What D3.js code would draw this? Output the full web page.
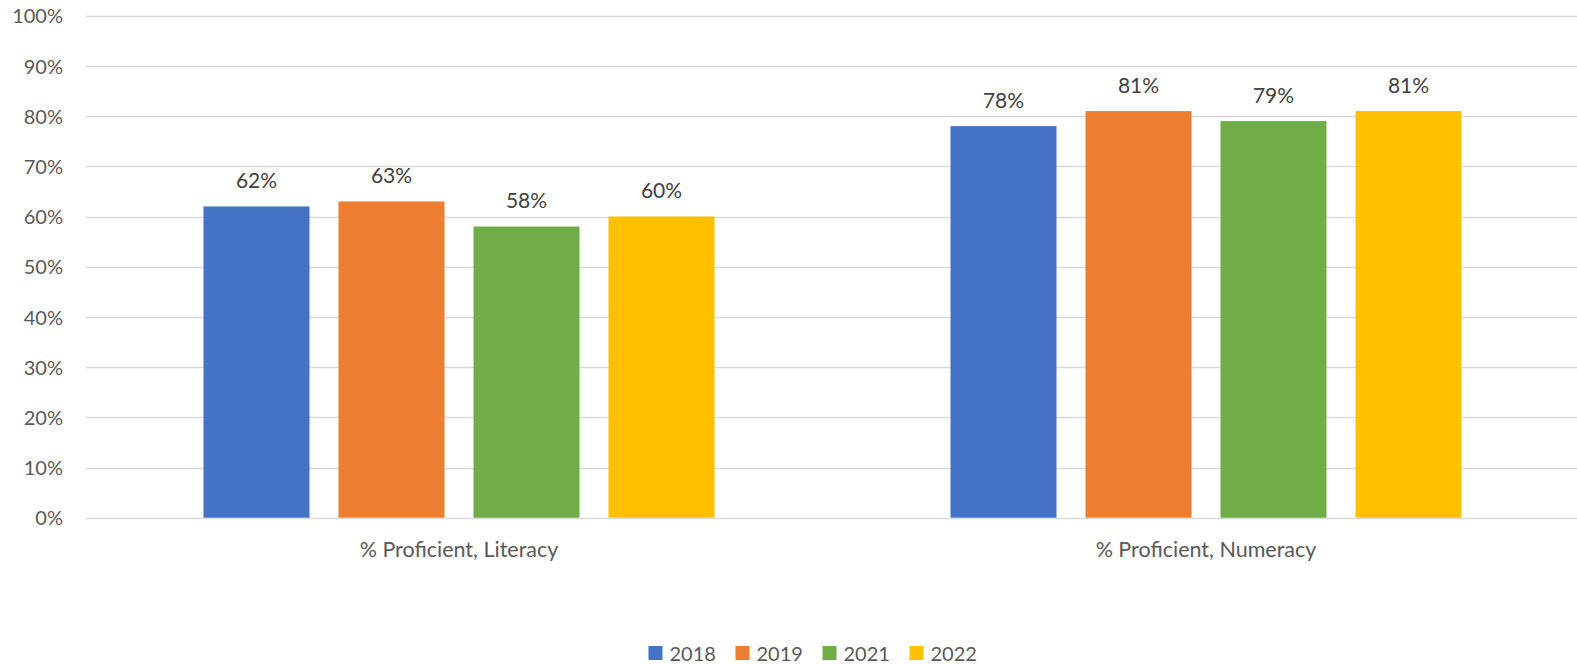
<!DOCTYPE html>
<html>
<head>
<meta charset="utf-8">
<script src="https://cdn.jsdelivr.net/npm/d3@7"></script>
<style>
  html, body { margin: 0; padding: 0; background: #fff; }
  svg { display: block; }
  text { font-family: Lato, "Open Sans", sans-serif; }
</style>
</head>
<body>
<svg id="chart" width="1577" height="664"></svg>
<script>
const categories = ["% Proficient, Literacy", "% Proficient, Numeracy"];
const seriesNames = ["2018", "2019", "2021", "2022"];
const values2018 = [62, 78];
const values2019 = [63, 81];
const values2021 = [58, 79];
const values2022 = [60, 81];
const yTicks = [0, 10, 20, 30, 40, 50, 60, 70, 80, 90, 100];
const colors = ["#4472C4", "#ED7D31", "#70AD47", "#FFC000"];

const seriesValues = [values2018, values2019, values2021, values2022];

const svg = d3.select("#chart");
const plotLeft = 87, plotRight = 1577, plotTop = 15.7, plotBottom = 517.7;

const y = d3.scaleLinear().domain([0, 100]).range([plotBottom, plotTop]);
const x0 = d3.scaleBand().domain(categories).range([plotLeft, plotLeft + 2 * 747]).paddingInner(0).paddingOuter(0);
const x1 = d3.scaleBand().domain(seriesNames)
  .range([116.5, 116.5 + 511]).paddingInner(29 / 135).paddingOuter(0);

// gridlines
svg.append("g").selectAll("line").data(yTicks).join("line")
  .attr("x1", plotLeft - 1).attr("x2", plotRight)
  .attr("y1", d => Math.round(y(d)) + 0.5).attr("y2", d => Math.round(y(d)) + 0.5)
  .attr("stroke", "#D9D9D9").attr("stroke-width", 1.5);

// y axis labels
const yAxis = d3.axisLeft(y).tickValues(yTicks).tickFormat(d => d + "%").tickSize(0).tickPadding(0);
const ya = svg.append("g").attr("transform", `translate(63,0)`).call(yAxis);
ya.select(".domain").remove();
ya.selectAll("text").attr("font-family", "Lato, 'Open Sans', sans-serif")
  .attr("font-size", 20).attr("fill", "#595959").attr("dy", "0.36em");

// bars
const groups = svg.append("g").selectAll("g").data(categories).join("g")
  .attr("transform", d => `translate(${x0(d)},0)`);

groups.each(function(cat, ci) {
  const g = d3.select(this);
  const data = seriesNames.map((s, si) => ({ s, si, v: seriesValues[si][ci] }));
  g.selectAll("rect").data(data).join("rect")
    .attr("x", d => x1(d.s)).attr("width", x1.bandwidth())
    .attr("y", d => y(d.v)).attr("height", d => y(0) - y(d.v))
    .attr("fill", d => colors[d.si]);
  g.selectAll("text.lbl").data(data).join("text").attr("class", "lbl")
    .attr("x", d => x1(d.s) + x1.bandwidth() / 2)
    .attr("y", d => y(d.v) - 18.5)
    .attr("text-anchor", "middle").attr("font-size", 21).attr("fill", "#404040")
    .text(d => d.v + "%");
});

// x axis category labels (centered on bar groups)
const xAxis = d3.axisBottom(x0).tickSize(0).tickPadding(0);
const xa = svg.append("g").attr("transform", `translate(-1.5,${plotBottom})`).call(xAxis);
xa.select(".domain").remove();
xa.selectAll("text").attr("font-family", "Lato, 'Open Sans', sans-serif")
  .attr("font-size", 21.5).attr("fill", "#595959").attr("dy", 0).attr("y", 39);

// legend
const legendX = [648.5, 735.5, 822.5, 909.5];
const lg = svg.append("g").selectAll("g").data(seriesNames).join("g")
  .attr("transform", (d, i) => `translate(${legendX[i]},646)`);
lg.append("rect").attr("width", 14).attr("height", 14).attr("fill", (d, i) => colors[i]);
lg.append("text").attr("x", 21).attr("y", 15).attr("font-size", 20).attr("fill", "#595959").text(d => d);
</script>
</body>
</html>
